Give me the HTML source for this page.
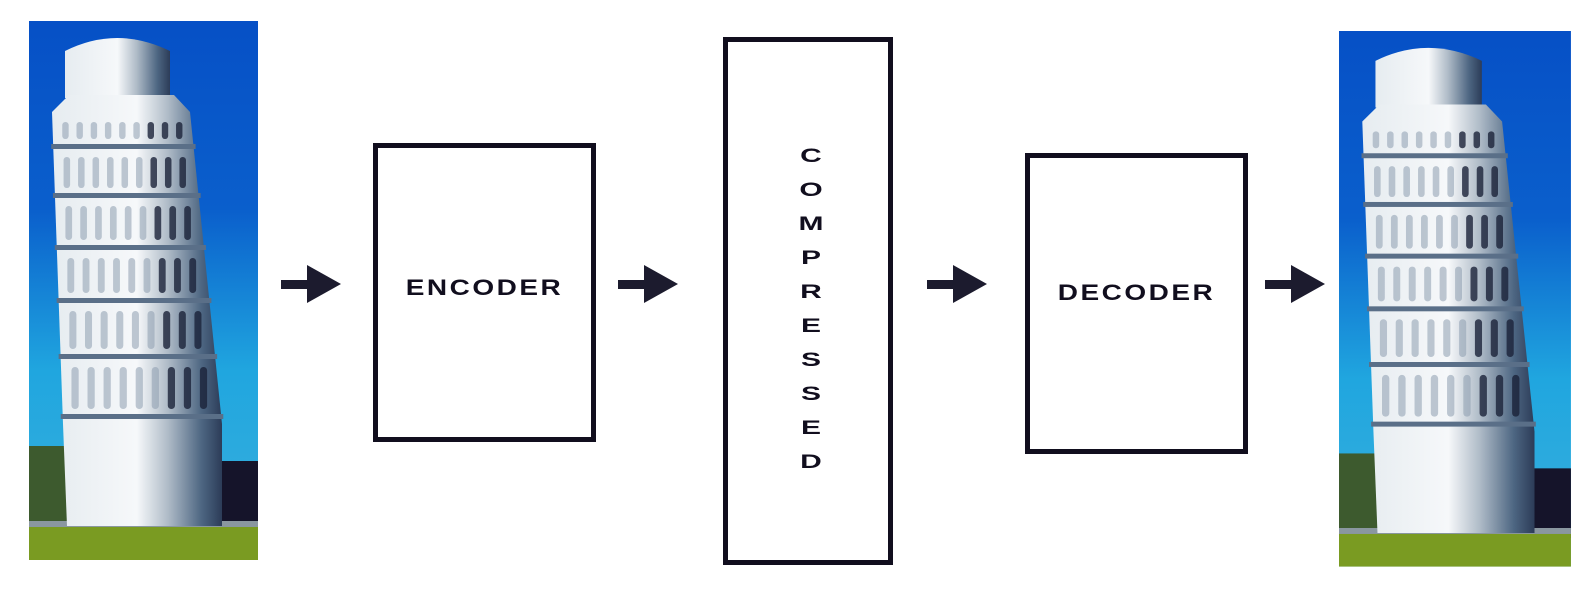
<!DOCTYPE html>
<html><head><meta charset="utf-8">
<style>
html,body{margin:0;padding:0;background:#fff;}
#root{position:relative;width:1595px;height:591px;overflow:hidden;background:#fff;font-family:"Liberation Sans",sans-serif;}
.box{position:absolute;border:5px solid #110e1e;box-sizing:border-box;background:#fff;}
.lbl{position:absolute;color:#110e1e;font-weight:bold;font-size:28px;letter-spacing:2.5px;text-align:center;line-height:1;transform:scaleY(0.78);}
.vl{position:absolute;color:#110e1e;font-weight:bold;font-size:30px;width:40px;text-align:center;line-height:1;transform:scaleY(0.66);}
svg{position:absolute;left:0;top:0;}
</style></head>
<body>
<div id="root">
<svg width="1595" height="591">
  <defs>
    <linearGradient id="sky" x1="0" y1="0" x2="0" y2="1">
      <stop offset="0" stop-color="#0650c6"/>
      <stop offset="0.35" stop-color="#0a5fcc"/>
      <stop offset="0.65" stop-color="#20a6df"/>
      <stop offset="1" stop-color="#3ab0dd"/>
    </linearGradient>
    <linearGradient id="towerShade" x1="0" y1="0" x2="1" y2="0">
      <stop offset="0" stop-color="#e6ecf0"/>
      <stop offset="0.5" stop-color="#f6f8fa"/>
      <stop offset="0.68" stop-color="#b0bcc8"/>
      <stop offset="0.88" stop-color="#4d6682"/>
      <stop offset="1" stop-color="#2c3c58"/>
    </linearGradient>
    <clipPath id="clipL"><rect x="0" y="0" width="229" height="539"/></clipPath>
  </defs>
  <g id="towerTpl" transform="translate(29,21)" clip-path="url(#clipL)">
    <rect x="0" y="0" width="229" height="539" fill="url(#sky)"/>
    <rect x="0" y="425" width="40" height="85" fill="#3d5a2e"/>
    <rect x="190" y="440" width="39" height="70" fill="#15142a"/>
    <rect x="0" y="505" width="229" height="34" fill="#7a9b22"/>
    <rect x="0" y="500" width="229" height="6" fill="#8a97a0"/>
    <path d="M36,77 L36,30 Q88,4 141,30 L141,77 Z" fill="url(#towerShade)"/>
    <polygon points="23,91 40,74 145,74 161,91 193,403 193,505 38,505 34,403" fill="url(#towerShade)"/>
    <g id="bands"></g>
  </g>
  <g transform="translate(1339,31) scale(1.013,0.994)" clip-path="url(#clipL)">
    <use href="#towerTpl" transform="translate(-29,-21)"/>
  </g>

  <g fill="#1c1b2e">
    <g><rect x="281" y="280" width="28" height="9"/><polygon points="307,265 341,284 307,303"/></g>
    <g><rect x="618" y="280" width="28" height="9"/><polygon points="644,265 678,284 644,303"/></g>
    <g><rect x="927" y="280" width="28" height="9"/><polygon points="953,265 987,284 953,303"/></g>
    <g><rect x="1265" y="280" width="28" height="9"/><polygon points="1291,265 1325,284 1291,303"/></g>
  </g>
</svg>

<div class="box" style="left:373px;top:143px;width:223px;height:299px;"></div>
<div class="lbl" style="left:373px;top:274px;width:223px;">ENCODER</div>

<div class="box" style="left:723px;top:37px;width:170px;height:528px;"></div>

<div class="box" style="left:1025px;top:153px;width:223px;height:301px;"></div>
<div class="lbl" style="left:1025px;top:279px;width:223px;">DECODER</div>
</div>
<script>
const letters = ["C","O","M","P","R","E","S","S","E","D"];
letters.forEach((c,i)=>{
  const d=document.createElement('div');
  
  
  d.className='vl';
  d.style.left='791px';
  d.style.top=(141+i*34)+'px';
  d.textContent=c;
  document.getElementById('root').appendChild(d);
});
const NS="http://www.w3.org/2000/svg";
const bandY=[91,126,175,227,280,336,396];
const g=document.getElementById('bands');
function xL(y){return 23+(y-91)*(34-23)/(403-91);}
function xR(y){return 161+(y-91)*(193-161)/(403-91);}
for(let b=0;b<bandY.length-1;b++){
  const y0=bandY[b], y1=bandY[b+1];
  const l=document.createElementNS(NS,'rect');
  
  
  l.setAttribute('x',xL(y1)-2);l.setAttribute('y',y1-3);
  l.setAttribute('width',xR(y1)-xL(y1)+4);l.setAttribute('height',5);
  l.setAttribute('fill','#5a6f88');
  g.appendChild(l);
  const n=9;
  for(let k=0;k<n;k++){
    const L=xL(y0)+6, R=xR(y0)-4;
    const w=(R-L)/n;
    const a=document.createElementNS(NS,'rect');
    
    
    a.setAttribute('x',L+k*w+w*0.3);a.setAttribute('y',y0+10);
    a.setAttribute('width',w*0.45);a.setAttribute('height',(y1-y0)-18);
    a.setAttribute('rx',w*0.22);
    a.setAttribute('fill',k>5?'#1a2238':'#8c9cae');
    a.setAttribute('opacity',k>5?'0.8':'0.55');
    g.appendChild(a);
  }
}
</script>
</body></html>
